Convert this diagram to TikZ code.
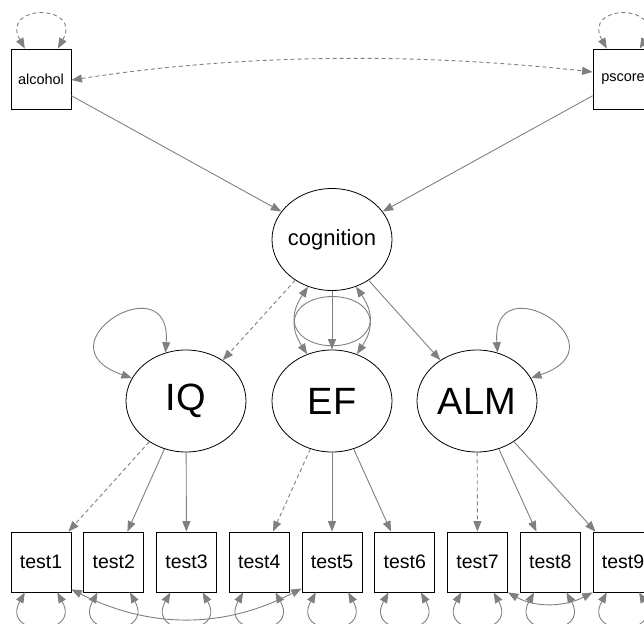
\documentclass[tikz,border=0pt]{standalone}
\usepackage{fontspec}
\setmainfont{Liberation Sans}
\usetikzlibrary{arrows.meta,shapes.geometric}
\definecolor{edgegray}{RGB}{128,128,128}
\begin{document}
\begin{tikzpicture}[x=1pt,y=-1pt,
  obs/.style={draw=black,line width=0.8pt,rectangle,minimum width=60pt,minimum height=60pt,inner sep=0pt},
  lat/.style={draw=black,line width=0.8pt,ellipse,minimum width=120pt,minimum height=102pt,inner sep=0pt},
  smalltxt/.style={font=\fontsize{14.5}{16}\selectfont},
  testtxt/.style={font=\fontsize{19.5}{21}\selectfont},
  cogtxt/.style={font=\fontsize{22}{24}\selectfont},
  bigtxt/.style={font=\fontsize{38}{40}\selectfont},
  edge/.style={draw=edgegray,line width=0.9pt,-{Triangle[length=10.5pt,width=8pt]}},
  dbl/.style={draw=edgegray,line width=0.9pt,{Triangle[length=10.5pt,width=8pt]}-{Triangle[length=10.5pt,width=8pt]}},
  dsh/.style={dash pattern=on 4pt off 3pt}]
\useasboundingbox (0,0) rectangle (644,623);

% observed exogenous
\node[obs,smalltxt] (alc) at (41,79) {alcohol};
\node[obs,smalltxt] (psc) at (623,79) {pscore};

% latents
\node[lat,cogtxt] (cog) at (332,239.5) {\makebox[0pt][c]{cognition}};
\node[lat,bigtxt] (iq) at (186,401) {\makebox[0pt][c]{IQ}};
\node[lat,bigtxt] (ef) at (332,401) {\makebox[0pt][c]{EF}};
\node[lat,bigtxt] (alm) at (477,401) {\makebox[0pt][c]{ALM}};

% tests
\node[obs,testtxt] (t1) at (41,562) {test1};
\node[obs,testtxt] (t2) at (113.75,562) {test2};
\node[obs,testtxt] (t3) at (186.5,562) {test3};
\node[obs,testtxt] (t4) at (259.25,562) {test4};
\node[obs,testtxt] (t5) at (332,562) {test5};
\node[obs,testtxt] (t6) at (404.75,562) {test6};
\node[obs,testtxt] (t7) at (477.5,562) {test7};
\node[obs,testtxt] (t8) at (550.25,562) {test8};
\node[obs,testtxt] (t9) at (623,562) {test9};

% regressions
\draw[edge] (alc) -- (cog);
\draw[edge] (psc) -- (cog);

% loadings of cognition
\draw[edge,dsh] (cog) -- (iq);
\draw[edge] (cog) -- (ef);
\draw[edge] (cog) -- (alm);

% loadings of first-order factors
\draw[edge,dsh] (iq) -- (t1);
\draw[edge] (iq) -- (t2);
\draw[edge] (iq) -- (t3);
\draw[edge,dsh] (ef) -- (t4);
\draw[edge] (ef) -- (t5);
\draw[edge] (ef) -- (t6);
\draw[edge,dsh] (alm) -- (t7);
\draw[edge] (alm) -- (t8);
\draw[edge] (alm) -- (t9);

% variances
\draw[dbl,dsh] (alc.118) .. controls +(-25,-45) and +(25,-45) .. (alc.61);
\draw[dbl,dsh] (psc.118) .. controls +(-25,-45) and +(25,-45) .. (psc.61);
\draw[dbl] (cog.243) .. controls +(-50,76) and +(51,76) .. (cog.297);
\draw[dbl] (ef.118) .. controls +(-47,-74) and +(48,-74) .. (ef.62);
\draw[dbl] (iq.113) .. controls (172,262) and (36,345) .. (iq.157);
\draw[dbl] (alm.67) .. controls (491,262) and (627,345) .. (alm.23);
\foreach \n in {1,...,9}
  \draw[dbl] (t\n.242) .. controls +(-25,45) and +(25,45) .. (t\n.298);

% covariances
\draw[dbl,dsh] (alc.-2) .. controls +(174,-27) and +(-173,-19) .. (psc.167);
\draw[dbl] (t1.-42) .. controls +(80,40) and +(-77,40) .. (t5.221);
\draw[dbl] (t7.south east) .. controls +(27,15) and +(-29,15) .. (t9.south west);
\end{tikzpicture}
\end{document}
